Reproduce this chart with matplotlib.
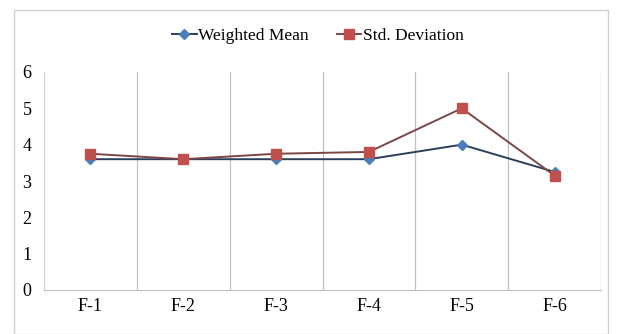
import matplotlib
matplotlib.use("Agg")
import matplotlib.pyplot as plt
from matplotlib.patches import Rectangle

categories = ["F-1", "F-2", "F-3", "F-4", "F-5", "F-6"]
weighted_mean = [3.6, 3.6, 3.6, 3.6, 4.0, 3.25]
std_deviation = [3.75, 3.6, 3.75, 3.8, 5.0, 3.15]
y_ticks = [0, 1, 2, 3, 4, 5, 6]

plt.rcParams["font.family"] = ["Liberation Serif", "DejaVu Serif"]

fig = plt.figure(figsize=(6.19, 3.34), dpi=100)
fig.patch.set_facecolor("white")
ax = fig.add_axes([44 / 619, 1 - 290 / 334, 557 / 619, 218 / 334])

x = list(range(len(categories)))
ax.plot(x, weighted_mean, color="#2b3f5c", lw=1.4, marker="D", ms=5,
        mfc="#4a7ebb", mec="#4a7ebb", label="Weighted Mean", zorder=3)
ax.plot(x, std_deviation, color="#7a4646", lw=1.4, marker="s", ms=7,
        mfc="#c0504d", mec="#c0504d", label="Std. Deviation", zorder=3)

ax.set_xlim(-0.5, len(categories) - 0.5)
ax.set_ylim(0, 6)
ax.set_yticks(y_ticks)
ax.set_yticklabels([str(t) for t in y_ticks], fontsize=13)
ax.set_xticks(x)
ax.set_xticklabels(categories, fontsize=13)
ax.tick_params(axis="x", length=0, pad=6)
ax.tick_params(axis="y", length=0, pad=9)

# vertical gridlines between categories
for b in [i + 0.5 for i in range(len(categories))]:
    ax.axvline(b, color="#c0c0c0", lw=0.9, zorder=1)
for s in ["top", "right", "left"]:
    ax.spines[s].set_visible(False)
ax.spines["bottom"].set_color("#c0c0c0")
ax.axvline(-0.5, color="#d0d0d0", lw=0.9)

# outer chart frame
fig.add_artist(Rectangle((14 / 619, 0), 594 / 619, 1 - 10 / 334,
                         transform=fig.transFigure, fill=False,
                         edgecolor="#d0d0d0", lw=1.0))

fig.legend(loc="center", bbox_to_anchor=(318 / 619, 1 - 36 / 334), ncol=2,
           frameon=False, fontsize=12.5, handlelength=1.4, handletextpad=0.1,
           columnspacing=1.6)

fig.savefig("out.png", dpi=100)
